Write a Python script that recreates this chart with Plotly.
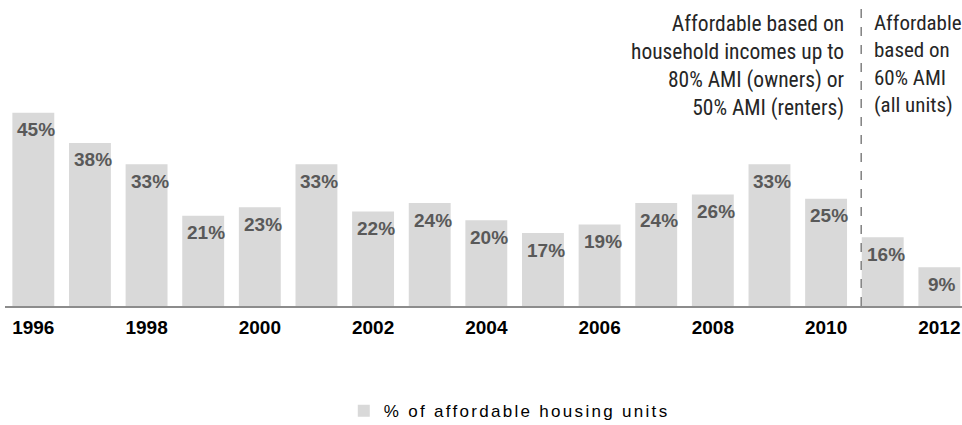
import plotly.graph_objects as go

# Share of new housing units that were affordable, by year
years = list(range(1996, 2013))
share_pct = [45, 38, 33, 21, 23, 33, 22, 24, 20, 17, 19, 24, 26, 33, 25, 16, 9]
value_labels = [f"{v}%" for v in share_pct]
tick_years = list(range(1996, 2013, 2))
series_name = "% of affordable housing units"
note_left = "Affordable based on<br>household incomes up to<br>80% AMI (owners) or<br>50% AMI (renters)"
note_right = "Affordable<br>based on<br>60% AMI<br>(all units)"

BAR_COLOR = "#d9d9d9"
LABEL_COLOR = "#595959"
NARROW = "Liberation Sans Narrow, Arial Narrow, Roboto Condensed, Liberation Sans, sans-serif"
SANS = "Liberation Sans, Arial, sans-serif"

fig = go.Figure()
fig.add_trace(go.Bar(
    x=years,
    y=share_pct,
    name=series_name,
    marker=dict(color=BAR_COLOR, line=dict(width=0)),
    width=0.74,
    showlegend=True,
))

# value labels just inside the top of each bar
for yr, v, lab in zip(years, share_pct, value_labels):
    fig.add_annotation(
        x=yr, y=v, text=lab, showarrow=False,
        xanchor="center", yanchor="middle",
        yshift=-17, xshift=3,
        font=dict(family=SANS, size=19, color=LABEL_COLOR, weight="bold"),
    )

# divider between the two affordability definitions
fig.add_shape(
    type="line", xref="x", yref="paper",
    x0=2010.62, x1=2010.62, y0=0, y1=0.99,
    line=dict(color="#808080", width=1.5, dash="dash"),
)

fig.add_annotation(
    xref="paper", yref="paper", x=0.88, y=0.972,
    xanchor="right", yanchor="top", align="right",
    text=note_left, showarrow=False,
    font=dict(family=NARROW, size=21.5, color="#262626"),
)
fig.add_annotation(
    xref="paper", yref="paper", x=0.906, y=0.972,
    xanchor="left", yanchor="top", align="left",
    text=note_right, showarrow=False,
    font=dict(family=NARROW, size=21, color="#262626"),
)

fig.update_layout(
    width=962, height=425,
    margin=dict(l=5, r=0, t=0, b=119, autoexpand=False),
    paper_bgcolor="white", plot_bgcolor="white",
    bargap=0.26,
    xaxis=dict(
        range=[1995.5, 2012.4],
        tickmode="array", tickvals=tick_years, ticktext=[str(t) for t in tick_years],
        showgrid=False, zeroline=False,
        showline=True, linecolor="#8c8c8c", linewidth=2,
        ticks="outside", ticklen=3, tickcolor="rgba(0,0,0,0)",
        tickfont=dict(family=SANS, size=19, color="#000000", weight="bold"),
    ),
    yaxis=dict(
        range=[0, 71.3], visible=False, showgrid=False, zeroline=False,
    ),
    legend=dict(
        orientation="h", x=0.354, y=-0.285, xanchor="left", yanchor="top",
        font=dict(family=SANS, size=17, color="#000000"),
        itemwidth=30, bgcolor="rgba(0,0,0,0)",
        entrywidth=340, entrywidthmode="pixels",
    ),
)

# the legend caption is set with wide letter spacing
spacing_js = """
document.querySelectorAll('.legendtext').forEach(function (t) {
    t.setAttribute('letter-spacing', '2.3px');
});
"""

fig.write_html("out.html", post_script=spacing_js)
